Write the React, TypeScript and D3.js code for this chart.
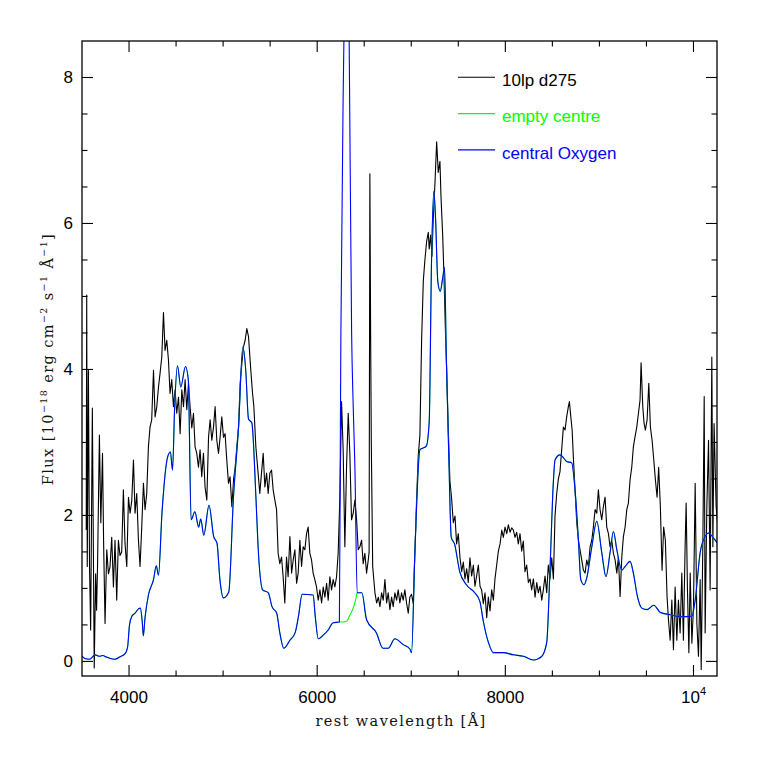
import React from "react";
import * as d3 from "d3";

// ---- data: observed spectrum "10lp d275" [wavelength Å, flux 1e-18]
const observed: [number, number][] = [
  [3545, 1.8], [3550, 5.02], [3556, 1.3], [3568, 4.0], [3580, 1.3], [3592, 0.43], [3610, 3.47], [3630, -0.09],
  [3645, 1.2], [3655, 0.7], [3665, 1.3], [3685, 3.1], [3700, 1.9], [3718, 2.85], [3730, 1.6], [3745, 0.52],
  [3763, 1.53], [3781, 1.2], [3798, 1.3], [3816, 1.7], [3834, 1.02], [3851, 1.66], [3869, 0.84], [3887, 1.66],
  [3904, 1.45], [3922, 1.5], [3940, 2.35], [3957, 1.62], [3976, 1.3], [3994, 2.25], [4011, 2.03], [4029, 2.2],
  [4047, 2.76], [4064, 2.03], [4082, 2.3], [4100, 1.66], [4117, 1.3], [4135, 1.84], [4153, 2.44], [4170, 2.08],
  [4188, 2.3], [4206, 2.94], [4223, 3.21], [4241, 3.31], [4260, 3.99], [4277, 3.35], [4295, 3.49], [4313, 3.76],
  [4330, 3.95], [4348, 4.17], [4366, 4.78], [4383, 4.26], [4401, 4.4], [4419, 4.13], [4436, 3.67], [4454, 3.86],
  [4472, 3.49], [4489, 3.72], [4507, 3.4], [4526, 3.62], [4543, 3.12], [4561, 3.72], [4579, 3.49], [4596, 3.86],
  [4614, 3.45], [4632, 3.81], [4649, 3.49], [4667, 3.2], [4685, 3.4], [4702, 2.94], [4720, 2.85], [4738, 2.66],
  [4755, 2.9], [4773, 2.53], [4791, 2.85], [4808, 2.39], [4827, 2.21], [4845, 3.07], [4862, 3.31], [4880, 3.03],
  [4898, 3.21], [4915, 3.49], [4933, 3.03], [4951, 2.85], [4968, 3.07], [4986, 3.35], [5004, 3.07], [5021, 3.12],
  [5039, 2.76], [5057, 2.44], [5074, 2.53], [5093, 2.12], [5111, 2.49], [5128, 2.66], [5146, 2.94], [5164, 3.21],
  [5181, 3.81], [5199, 4.08], [5217, 4.31], [5234, 4.4], [5252, 4.56], [5270, 4.45], [5287, 4.13], [5292, 4.03],
  [5313, 3.67], [5327, 3.49], [5348, 2.94], [5372, 2.58], [5390, 2.3], [5408, 2.58], [5426, 2.85], [5444, 2.39],
  [5462, 2.58], [5479, 2.3], [5497, 2.58], [5515, 2.62], [5532, 2.35], [5550, 2.21], [5568, 2.08], [5585, 1.48],
  [5603, 1.34], [5621, 1.43], [5638, 1.16], [5656, 0.8], [5674, 1.43], [5691, 1.16], [5710, 1.71], [5728, 1.21],
  [5745, 1.39], [5763, 1.53], [5781, 1.07], [5798, 1.21], [5816, 1.66], [5834, 1.3], [5851, 1.57], [5869, 1.53],
  [5887, 1.75], [5904, 1.84], [5922, 1.48], [5940, 1.39], [5957, 1.21], [5975, 1.12], [5993, 1.02], [6011, 0.84],
  [6029, 0.98], [6047, 0.8], [6064, 1.02], [6082, 0.88], [6100, 1.07], [6117, 0.84], [6135, 1.16], [6153, 0.98],
  [6170, 1.12], [6188, 1.02], [6206, 1.16], [6223, 1.48], [6241, 2.25], [6259, 3.56], [6276, 2.9], [6294, 1.57],
  [6312, 2.66], [6330, 3.4], [6347, 2.85], [6365, 1.94], [6383, 2.03], [6401, 2.21], [6419, 1.94], [6436, 1.53],
  [6454, 1.57], [6472, 1.66], [6489, 1.34], [6507, 1.48], [6525, 1.21], [6543, 1.39], [6552, 1.5], [6560, 6.68],
  [6568, 4.5], [6575, 3.03], [6590, 1.3], [6614, 0.94], [6632, 0.8], [6650, 0.88], [6667, 0.75], [6685, 0.94],
  [6702, 0.84], [6720, 1.12], [6738, 0.8], [6755, 0.94], [6773, 0.71], [6791, 0.88], [6808, 0.75], [6826, 0.94],
  [6844, 0.84], [6861, 0.98], [6879, 0.8], [6897, 0.94], [6914, 0.84], [6932, 0.98], [6950, 0.8], [6968, 0.66],
  [6985, 0.88], [7003, 0.92], [7021, 0.79], [7039, 1.51], [7057, 2.23], [7074, 2.81], [7092, 3.1], [7110, 4.4],
  [7128, 5.21], [7145, 5.5], [7163, 5.75], [7181, 5.88], [7191, 5.65], [7206, 5.84], [7220, 5.55], [7234, 6.07],
  [7252, 6.55], [7270, 7.12], [7287, 6.7], [7305, 6.85], [7316, 6.37], [7334, 5.84], [7348, 5.27], [7362, 4.59],
  [7376, 4.01], [7393, 3.2], [7411, 2.47], [7429, 2.23], [7447, 1.9], [7465, 1.99], [7482, 1.61], [7500, 1.75],
  [7518, 1.42], [7536, 1.23], [7553, 1.36], [7571, 1.13], [7589, 1.27], [7606, 1.08], [7624, 1.42], [7642, 1.17],
  [7660, 1.32], [7677, 1.03], [7695, 1.17], [7713, 1.32], [7731, 1.03], [7748, 0.98], [7766, 0.79], [7784, 0.94],
  [7802, 0.6], [7819, 0.88], [7837, 0.69], [7855, 0.98], [7873, 0.84], [7890, 1.13], [7908, 1.32], [7926, 1.51],
  [7944, 1.61], [7962, 1.8], [7979, 1.7], [7997, 1.84], [8015, 1.75], [8032, 1.87], [8050, 1.77], [8068, 1.83],
  [8085, 1.8], [8103, 1.7], [8121, 1.77], [8138, 1.61], [8156, 1.75], [8174, 1.51], [8191, 1.65], [8209, 1.23],
  [8227, 1.32], [8245, 1.08], [8263, 1.13], [8280, 0.98], [8298, 1.13], [8316, 0.88], [8334, 1.08], [8351, 0.94],
  [8369, 1.03], [8387, 0.84], [8404, 0.98], [8422, 1.17], [8440, 0.94], [8457, 1.32], [8475, 1.13], [8493, 1.42],
  [8511, 1.13], [8528, 1.99], [8546, 2.3], [8564, 2.5], [8581, 2.6], [8599, 2.9], [8617, 3.21], [8635, 3.17],
  [8652, 3.35], [8670, 3.49], [8681, 3.56], [8696, 3.35], [8710, 3.17], [8723, 2.8], [8741, 2.35], [8759, 1.9],
  [8777, 1.66], [8794, 1.53], [8812, 1.39], [8830, 1.25], [8848, 1.21], [8865, 1.39], [8883, 1.3], [8901, 1.57],
  [8919, 1.66], [8936, 1.84], [8954, 2.08], [8972, 2.03], [8989, 2.35], [9007, 2.08], [9025, 1.94], [9042, 2.12],
  [9060, 2.25], [9078, 1.84], [9096, 1.75], [9113, 1.57], [9131, 1.66], [9149, 1.48], [9167, 1.39], [9185, 1.21],
  [9202, 1.43], [9220, 0.89], [9238, 1.43], [9255, 1.71], [9273, 1.84], [9291, 2.08], [9308, 2.17], [9326, 2.49],
  [9344, 2.66], [9361, 2.94], [9379, 3.08], [9397, 3.21], [9415, 3.4], [9432, 3.58], [9443, 4.09], [9461, 3.49],
  [9475, 3.26], [9489, 3.17], [9507, 3.31], [9525, 3.81], [9542, 3.21], [9560, 3.03], [9578, 2.76], [9595, 2.49],
  [9613, 2.25], [9630, 2.66], [9648, 2.12], [9666, 1.25], [9683, 1.84], [9701, 1.66], [9719, 0.89], [9734, 0.57],
  [9752, 0.29], [9770, 0.84], [9787, 0.16], [9805, 1.02], [9823, 0.29], [9840, 0.84], [9858, 0.39], [9876, 1.21],
  [9893, 0.29], [9911, 1.57], [9922, 2.17], [9936, 0.98], [9951, 0.12], [9965, 1.21], [9983, 0.25], [10000, 0.75],
  [10018, 2.44], [10036, 0.52], [10053, 0.07], [10071, 1.12], [10082, -0.11], [10100, 1.66], [10114, 3.63],
  [10124, 0.39], [10142, 2.12], [10160, 3.03], [10177, 0.98], [10195, 4.17], [10206, 1.57], [10219, 3.26],
  [10241, 2.12], [10255, 1.9],
];

// ---- model "central Oxygen"
const centralOxygen: [number, number][] = [
  [3497, 0.075], [3530, 0.04], [3580, 0.03], [3640, 0.09], [3680, 0.07], [3720, 0.08], [3760, 0.06], [3800, 0.04],
  [3850, 0.03], [3900, 0.06], [3960, 0.11], [3985, 0.2], [4005, 0.5], [4030, 0.62], [4064, 0.66], [4100, 0.72],
  [4120, 0.73], [4140, 0.55], [4152, 0.35], [4170, 0.6], [4206, 0.91], [4260, 1.12], [4290, 1.31], [4313, 1.18],
  [4350, 2.03], [4410, 2.8], [4440, 2.87], [4462, 2.62], [4485, 3.49], [4515, 4.05], [4550, 3.76], [4600, 4.04],
  [4630, 3.86], [4660, 1.94], [4700, 2.05], [4740, 1.84], [4762, 1.95], [4795, 1.73], [4850, 2.14], [4900, 1.71],
  [4935, 1.62], [4966, 1.12], [5004, 0.87], [5060, 0.95], [5110, 2.25], [5164, 3.21], [5210, 4.31], [5240, 4.0],
  [5270, 3.32], [5305, 3.27], [5350, 2.21], [5370, 1.62], [5420, 0.98], [5480, 0.94], [5520, 0.75], [5570, 0.66],
  [5603, 0.39], [5645, 0.18], [5710, 0.29], [5765, 0.39], [5800, 0.61], [5840, 0.92], [5957, 0.91], [5980, 0.61],
  [6011, 0.31], [6064, 0.36], [6117, 0.43], [6170, 0.53], [6236, 0.54], [6246, 3.0], [6252, 4.5], [6284, 8.5],
  [6312, 11.0], [6340, 8.5], [6366, 4.5], [6383, 3.49], [6401, 2.66], [6425, 0.94], [6475, 0.94], [6525, 0.57],
  [6630, 0.39], [6700, 0.18], [6755, 0.18], [6826, 0.31], [6914, 0.23], [6985, 0.17], [7003, 0.12], [7039, 1.51],
  [7092, 2.9], [7160, 2.95], [7191, 3.29], [7215, 5.45], [7240, 6.44], [7258, 6.08], [7282, 5.21], [7308, 5.07],
  [7336, 5.27], [7354, 5.4], [7372, 4.2], [7400, 2.76], [7425, 1.7], [7460, 1.61], [7515, 1.23], [7586, 1.05],
  [7675, 0.94], [7730, 0.82], [7766, 0.55], [7820, 0.26], [7873, 0.12], [7980, 0.12], [8085, 0.09], [8191, 0.07],
  [8298, 0.02], [8387, 0.07], [8440, 0.26], [8475, 1.27], [8511, 2.47], [8528, 2.76], [8581, 2.83], [8652, 2.74],
  [8705, 2.72], [8741, 2.35], [8777, 1.66], [8802, 1.12], [8837, 1.05], [8865, 1.14], [8919, 1.57], [8972, 1.92],
  [9025, 1.49], [9070, 1.16], [9113, 1.49], [9149, 1.78], [9185, 1.53], [9238, 1.25], [9273, 1.3], [9326, 1.37],
  [9361, 1.21], [9404, 0.89], [9450, 0.73], [9507, 0.71], [9578, 0.77], [9648, 0.67], [9752, 0.64], [9858, 0.61],
  [9983, 0.62], [10018, 0.84], [10071, 1.49], [10124, 1.71], [10160, 1.76], [10213, 1.69], [10255, 1.62],
];

// ---- model "empty centre": identical to central Oxygen except in the core of the [O I] line
const emptyCentreCore: [number, number][] = [
  [6270, 0.54], [6315, 0.55], [6345, 0.63], [6383, 0.73], [6410, 0.85],
];
const coreRange: [number, number] = [6236, 6425];

const xMajorTicks = [4000, 6000, 8000, 10000];
const xMinorTicks = [4500, 5000, 5500, 6500, 7000, 7500, 8500, 9000, 9500];
const xTickLabels = ["4000", "6000", "8000", "10^4"];
const yMajorTicks = [0, 2, 4, 6, 8];
const yMinorTicks = [0.5, 1, 1.5, 2.5, 3, 3.5, 4.5, 5, 5.5, 6.5, 7, 7.5];
const yTickLabels = ["0", "2", "4", "6", "8"];

const legendNames = ["10lp d275", "empty centre", "central Oxygen"];
const legendColors = ["#000000", "#00ff00", "#0000ff"];

const L = 82, R = 717, T = 41, B = 676;
const SANS = "'Liberation Sans', Arial, Helvetica, sans-serif";
const SERIF = "'DejaVu Serif', 'Liberation Serif', serif";

export default function App() {
  const x = d3.scaleLinear().domain([3500, 10250]).range([L, R]);
  const y = d3.scaleLinear().domain([-0.2, 8.5]).range([B, T]);

  const emptyCentre: [number, number][] = centralOxygen
    .filter((d) => d[0] <= coreRange[0] || d[0] >= coreRange[1])
    .concat(emptyCentreCore)
    .sort((a, b) => a[0] - b[0]);

  const rough = d3.line<[number, number]>().x((d) => x(d[0])).y((d) => y(d[1]));
  const smooth = d3
    .line<[number, number]>()
    .x((d) => x(d[0]))
    .y((d) => y(d[1]))
    .curve(d3.curveMonotoneX);

  const major = 11;
  const minor = 5.5;
  const tickStroke = "#000";

  return (
    <svg
      width={757}
      height={757}
      style={{ position: "absolute", left: 0, top: 0, background: "#fff" }}
    >
      <rect x={0} y={0} width={757} height={757} fill="#fff" />
      <defs>
        <clipPath id="plotArea">
          <rect x={L} y={T} width={R - L} height={B - T} />
        </clipPath>
      </defs>
      <g clipPath="url(#plotArea)" fill="none">
        <path d={rough(observed) || ""} stroke="#000" strokeWidth={1.1} strokeLinejoin="round" />
        <path d={smooth(emptyCentre) || ""} stroke="#00ff00" strokeWidth={1.1} />
        <path d={smooth(centralOxygen) || ""} stroke="#0000ff" strokeWidth={1.1} />
      </g>

      {/* frame */}
      <rect x={L} y={T} width={R - L} height={B - T} fill="none" stroke="#000" strokeWidth={1.3} />

      {/* x ticks */}
      {xMajorTicks.map((v) => (
        <g key={"xM" + v} stroke={tickStroke} strokeWidth={1.1}>
          <line x1={x(v)} x2={x(v)} y1={B} y2={B - major} />
          <line x1={x(v)} x2={x(v)} y1={T} y2={T + major} />
        </g>
      ))}
      {xMinorTicks.map((v) => (
        <g key={"xm" + v} stroke={tickStroke} strokeWidth={1.1}>
          <line x1={x(v)} x2={x(v)} y1={B} y2={B - minor} />
          <line x1={x(v)} x2={x(v)} y1={T} y2={T + minor} />
        </g>
      ))}
      {/* y ticks */}
      {yMajorTicks.map((v) => (
        <g key={"yM" + v} stroke={tickStroke} strokeWidth={1.1}>
          <line x1={L} x2={L + major} y1={y(v)} y2={y(v)} />
          <line x1={R} x2={R - major} y1={y(v)} y2={y(v)} />
        </g>
      ))}
      {yMinorTicks.map((v) => (
        <g key={"ym" + v} stroke={tickStroke} strokeWidth={1.1}>
          <line x1={L} x2={L + minor} y1={y(v)} y2={y(v)} />
          <line x1={R} x2={R - minor} y1={y(v)} y2={y(v)} />
        </g>
      ))}

      {/* tick labels */}
      {xMajorTicks.map((v, i) => {
        const lab = xTickLabels[i];
        if (lab.includes("^")) {
          const [b, e] = lab.split("^");
          return (
            <text key={"xl" + v} x={x(v)} y={703} fontFamily={SANS} fontSize={17} textAnchor="middle" fill="#000">
              {b}
              <tspan fontSize={11} dy={-8}>{e}</tspan>
            </text>
          );
        }
        return (
          <text key={"xl" + v} x={x(v)} y={703} fontFamily={SANS} fontSize={17} textAnchor="middle" fill="#000">
            {lab}
          </text>
        );
      })}
      {yMajorTicks.map((v, i) => (
        <text key={"yl" + v} x={73} y={y(v) + 6} fontFamily={SANS} fontSize={17} textAnchor="end" fill="#000">
          {yTickLabels[i]}
        </text>
      ))}

      {/* axis titles */}
      <text
        x={401}
        y={726}
        fontFamily={SERIF}
        fontSize={14.5}
        letterSpacing={1.4}
        textAnchor="middle"
        fill="#111"
      >
        rest wavelength [Å]
      </text>
      <text
        transform="translate(53,359) rotate(-90)"
        fontFamily={SERIF}
        fontSize={14.5}
        letterSpacing={1.4}
        textAnchor="middle"
        fill="#111"
      >
        Flux [10
        <tspan fontSize={9.5} dy={-6}>−18</tspan>
        <tspan dy={6}> erg cm</tspan>
        <tspan fontSize={9.5} dy={-6}>−2</tspan>
        <tspan dy={6}> s</tspan>
        <tspan fontSize={9.5} dy={-6}>−1</tspan>
        <tspan dy={6}> Å</tspan>
        <tspan fontSize={9.5} dy={-6}>−1</tspan>
        <tspan dy={6}>]</tspan>
      </text>

      {/* legend */}
      {legendNames.map((name, i) => {
        const ly = 77.3 + i * 36.3;
        return (
          <g key={name}>
            <line x1={458} x2={495} y1={ly} y2={ly} stroke={legendColors[i]} strokeWidth={1.1} />
            <text x={502} y={ly + 8.7} fontFamily={SANS} fontSize={17} fill={legendColors[i]}>
              {name}
            </text>
          </g>
        );
      })}
    </svg>
  );
}
